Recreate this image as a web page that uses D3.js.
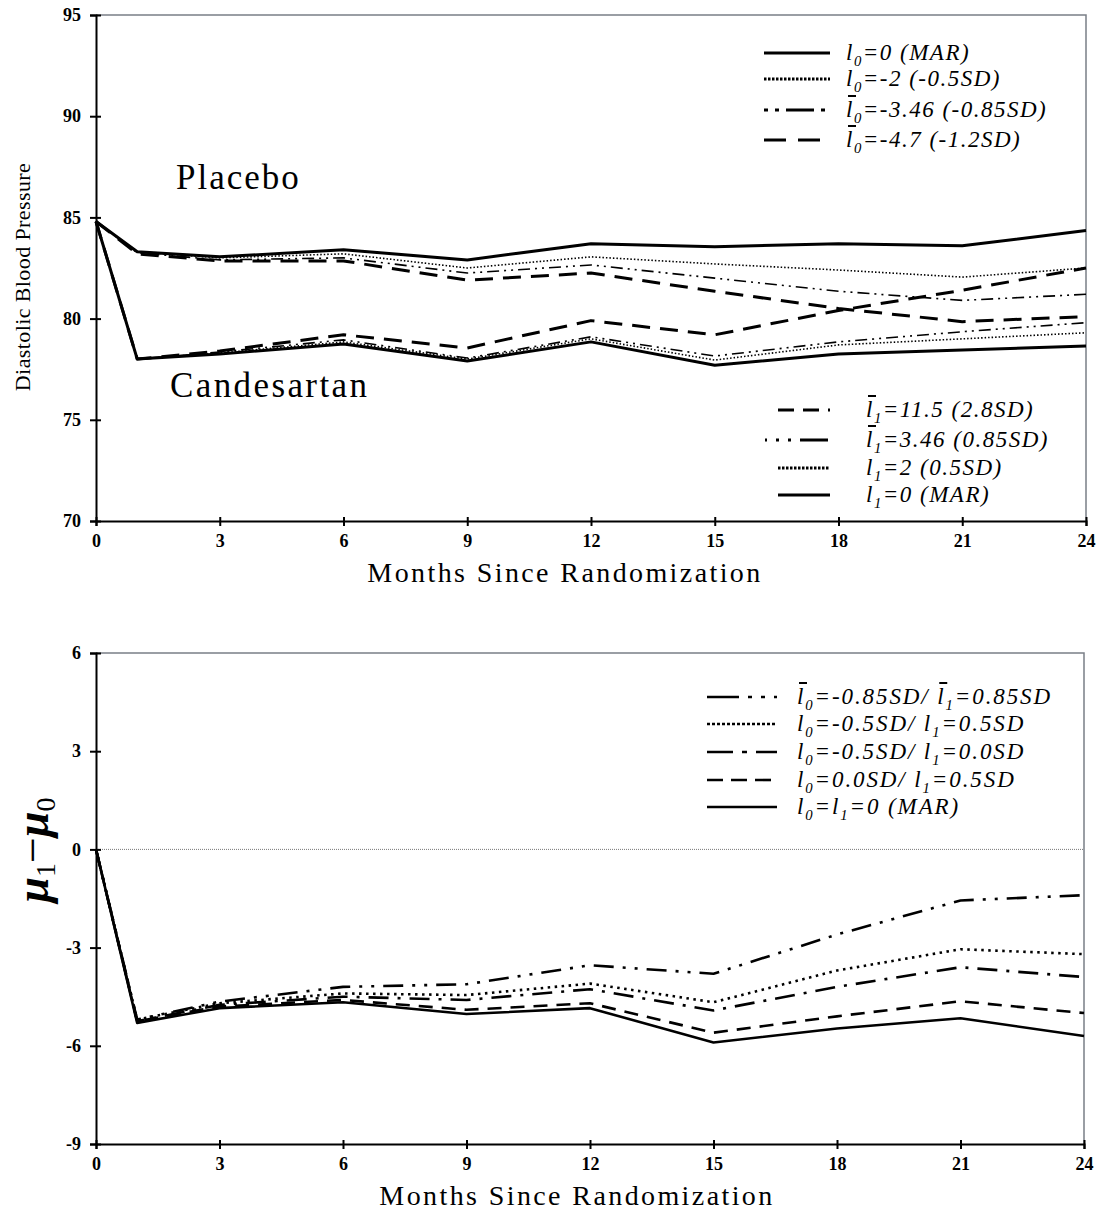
<!DOCTYPE html>
<html>
<head>
<meta charset="utf-8">
<script src="https://cdn.jsdelivr.net/npm/d3@7"></script>
<style>
  body { margin: 0; background: #fff; }
  svg text { font-family: "Liberation Serif", "Times New Roman", serif; }
</style>
</head>
<body>
<svg id="chart" width="1101" height="1211"></svg>
<script>
// ---------- DATA ----------
const months = [0, 1, 3, 6, 9, 12, 15, 18, 21, 24];
const xTicks = [0, 3, 6, 9, 12, 15, 18, 21, 24];
const topYTicks = [70, 75, 80, 85, 90, 95];
const botYTicks = [-9, -6, -3, 0, 3, 6];

// Placebo (l0 sensitivity)
const placeboL0_0    = [84.8, 83.3, 83.05, 83.4, 82.9, 83.7, 83.55, 83.7, 83.6, 84.35];
const placeboL0_m2   = [84.8, 83.3, 83.0, 83.2, 82.5, 83.05, 82.7, 82.4, 82.05, 82.5];
const placeboL0_m346 = [84.8, 83.25, 82.9, 83.0, 82.25, 82.65, 82.0, 81.35, 80.9, 81.2];
const placeboL0_m47  = [84.8, 83.2, 82.85, 82.85, 81.9, 82.25, 81.35, 80.5, 79.85, 80.1];
// Candesartan (l1 sensitivity)
const candL1_0    = [84.8, 78.0, 78.25, 78.75, 77.9, 78.85, 77.7, 78.25, 78.45, 78.65];
const candL1_2    = [84.8, 78.0, 78.3, 78.85, 78.0, 79.0, 77.95, 78.7, 79.0, 79.3];
const candL1_346  = [84.8, 78.0, 78.35, 78.95, 78.05, 79.1, 78.15, 78.85, 79.35, 79.8];
const candL1_115  = [84.8, 78.0, 78.4, 79.2, 78.55, 79.9, 79.2, 80.4, 81.4, 82.5];
// Difference mu1 - mu0
const diffMAR     = [0, -5.3, -4.85, -4.67, -5.03, -4.85, -5.9, -5.47, -5.16, -5.7];
const diff00_05   = [0, -5.25, -4.8, -4.6, -4.9, -4.7, -5.6, -5.1, -4.64, -5.0];
const diff05_00   = [0, -5.25, -4.75, -4.5, -4.6, -4.27, -4.92, -4.2, -3.6, -3.9];
const diff05_05   = [0, -5.2, -4.7, -4.4, -4.45, -4.1, -4.67, -3.7, -3.05, -3.2];
const diff085_085 = [0, -5.2, -4.65, -4.2, -4.12, -3.54, -3.8, -2.6, -1.56, -1.4];

// ---------- STYLES ----------
const ST = {
  solid:   { w: 3,   dash: null },
  dotted:  { w: 1.6, dash: "1.5,2" },
  dashdot: { w: 1.6, dash: "12,5,2,5,2,5" },
  longdash:{ w: 3,   dash: "18,10" },
  bSolid:  { w: 2.6, dash: null },
  bDash:   { w: 2.6, dash: "14,9" },
  bDashDot:{ w: 2.6, dash: "20,9,3,9" },
  bDot:    { w: 2.6, dash: "2.5,4.5" },
  bDDD:    { w: 2.6, dash: "20,9,3,9,3,9" }
};

const svg = d3.select("#chart");
const X0 = 96, X1 = 1086;

function drawPanel(opts) {
  const x = d3.scaleLinear().domain([0, 24]).range([X0, opts.xRight]);
  const y = d3.scaleLinear().domain(opts.yDomain).range([opts.yBottom, opts.yTop]);
  const g = svg.append("g");

  g.append("path")
    .attr("d", `M${X0},${opts.yTop}H${opts.xRight}V${opts.yBottom}`)
    .attr("fill", "none").attr("stroke", "#7a7f86").attr("stroke-width", 1.5);

  if (opts.zeroLine) {
    g.append("line").attr("x1", X0).attr("x2", opts.xRight)
      .attr("y1", y(0)).attr("y2", y(0))
      .attr("stroke", "#555").attr("stroke-width", 0.8).attr("stroke-dasharray", "1,1");
  }

  const fmt = d => String(d);
  const ya = d3.axisLeft(y).tickValues(opts.yTicks).tickSize(6).tickPadding(9).tickFormat(fmt);
  const yg = g.append("g").attr("transform", `translate(${X0},0)`).call(ya);
  const xa = d3.axisBottom(x).tickValues(xTicks).tickSize(5).tickPadding(8).tickFormat(fmt);
  const xg = g.append("g").attr("transform", `translate(0,${opts.yBottom})`).call(xa);
  [yg, xg].forEach(a => {
    a.attr("font-size", null).attr("font-family", null);
    a.select(".domain").attr("stroke", "#000").attr("stroke-width", 2);
    a.selectAll(".tick line").attr("stroke", "#000").attr("stroke-width", 2);
    a.selectAll(".tick text")
      .style("font-size", "18px").style("font-weight", "bold").attr("fill", "#000");
  });
  yg.selectAll(".tick").append("line").attr("x2", 5).attr("stroke", "#000").attr("stroke-width", 2);
  xg.selectAll(".tick").append("line").attr("y2", -4).attr("stroke", "#000").attr("stroke-width", 2);
  xg.selectAll(".tick text").attr("dy", "0.7em");

  const line = d3.line().x((d, i) => x(months[i])).y(d => y(d));
  opts.series.forEach(s => {
    g.append("path").datum(s.values)
      .attr("d", line)
      .attr("fill", "none").attr("stroke", "#000")
      .attr("stroke-width", s.style.w)
      .attr("stroke-dasharray", s.style.dash)
      .attr("stroke-linejoin", "round");
  });

  g.append("text").attr("x", opts.xTitleX).attr("y", opts.yBottom + 61)
    .attr("text-anchor", "middle").style("font-size", "28px").attr("letter-spacing", 2.4)
    .text("Months Since Randomization");
  return { x, y, g };
}

// ---------- TOP PANEL ----------
const topP = drawPanel({
  yDomain: [70, 95], yTop: 15, yBottom: 521, xRight: X1,
  yTicks: topYTicks, xTitleX: 565,
  series: [
    { values: placeboL0_m47, style: ST.longdash },
    { values: placeboL0_m346, style: ST.dashdot },
    { values: placeboL0_m2, style: ST.dotted },
    { values: placeboL0_0, style: ST.solid },
    { values: candL1_115, style: ST.longdash },
    { values: candL1_346, style: ST.dashdot },
    { values: candL1_2, style: ST.dotted },
    { values: candL1_0, style: ST.solid }
  ]
});
topP.g.append("text").attr("x", 22).attr("y", 277)
  .attr("transform", "rotate(-90,22,277)").attr("text-anchor", "middle")
  .attr("dy", "0.35em").style("font-size", "22px").attr("letter-spacing", 0.4)
  .text("Diastolic Blood Pressure");
topP.g.append("text").attr("x", 176).attr("y", 189).style("font-size", "35px")
  .attr("letter-spacing", 2).text("Placebo");
topP.g.append("text").attr("x", 170).attr("y", 397).style("font-size", "35px")
  .attr("letter-spacing", 2.4).text("Candesartan");

// ---------- BOTTOM PANEL ----------
const botP = drawPanel({
  yDomain: [-9, 6], yTop: 653, yBottom: 1144, xRight: 1084,
  yTicks: botYTicks, xTitleX: 577, zeroLine: true,
  series: [
    { values: diff085_085, style: ST.bDDD },
    { values: diff05_05, style: ST.bDot },
    { values: diff05_00, style: ST.bDashDot },
    { values: diff00_05, style: ST.bDash },
    { values: diffMAR, style: ST.bSolid }
  ]
});
{
  const t = botP.g.append("text").attr("transform", "translate(48,850) rotate(-90)")
    .attr("text-anchor", "middle").style("font-size", "46px").attr("font-style", "italic")
    .attr("font-weight", "bold");
  t.append("tspan").text("μ");
  t.append("tspan").style("font-size", "28px").attr("font-style", "normal").attr("font-weight", "normal").attr("dy", 7).text("1");
  t.append("tspan").attr("font-style", "normal").attr("font-weight", "normal").attr("dy", -7).text("−");
  t.append("tspan").text("μ");
  t.append("tspan").style("font-size", "28px").attr("font-style", "normal").attr("font-weight", "normal").attr("dy", 7).text("0");
}

// ---------- LEGENDS ----------
function legend(g, items, opt) {
  items.forEach((it, i) => {
    const yy = opt.rows[i];
    g.append("line").attr("x1", opt.sx1 + (it.sxOff || 0)).attr("x2", opt.sx2)
      .attr("y1", yy).attr("y2", yy).attr("stroke", "#000")
      .attr("stroke-width", it.style.w < 2 ? 3 : it.style.w)
      .attr("stroke-dasharray", it.legendDash || it.style.dash);
    const t = g.append("text").attr("x", opt.tx).attr("y", yy + 7)
      .style("font-size", opt.fs + "px").attr("font-style", "italic")
      .attr("letter-spacing", opt.ls);
    let bars = [];
    it.parts.forEach(p => {
      const ts = t.append("tspan").text(p.l);
      if (p.bar) bars.push(ts);
      t.append("tspan").style("font-size", (opt.fs * 0.64) + "px").attr("dy", 6).text(p.s);
      t.append("tspan").attr("dy", -6).text(p.r);
    });
    bars.forEach(ts => {
      const bb = ts.node().getBBox();
      g.append("line").attr("x1", bb.x + 2).attr("x2", bb.x + 10)
        .attr("y1", yy - 14).attr("y2", yy - 14).attr("stroke", "#000").attr("stroke-width", 2);
    });
  });
}

legend(topP.g, [
  { style: ST.solid, parts: [{ l: "l", s: "0", r: "=0 (MAR)" }] },
  { style: ST.dotted, legendDash: "2.5,1.5", parts: [{ l: "l", s: "0", r: "=-2 (-0.5SD)" }] },
  { style: ST.dashdot, legendDash: "4,7,4,7,28,7", parts: [{ l: "l", s: "0", r: "=-3.46 (-0.85SD)", bar: true }] },
  { style: ST.longdash, legendDash: "22,12", parts: [{ l: "l", s: "0", r: "=-4.7 (-1.2SD)", bar: true }] }
], { rows: [53, 79, 110, 140], sx1: 764, sx2: 830, tx: 846, fs: 23, ls: 1.5 });

legend(topP.g, [
  { style: ST.longdash, legendDash: "16,9", parts: [{ l: "l", s: "1", r: "=11.5 (2.8SD)", bar: true }] },
  { style: ST.dashdot, legendDash: "2,9,3,9,3,9,28,9", sxOff: -13, parts: [{ l: "l", s: "1", r: "=3.46 (0.85SD)", bar: true }] },
  { style: ST.dotted, legendDash: "2.5,1.5", parts: [{ l: "l", s: "1", r: "=2 (0.5SD)" }] },
  { style: ST.solid, parts: [{ l: "l", s: "1", r: "=0 (MAR)" }] }
], { rows: [410, 440, 468, 495], sx1: 778, sx2: 830, tx: 866, fs: 23, ls: 1.5 });

legend(botP.g, [
  { style: ST.bDDD, legendDash: "32,9,4,9,4,9,4", parts: [{ l: "l", s: "0", r: "=-0.85SD/ ", bar: true }, { l: "l", s: "1", r: "=0.85SD", bar: true }] },
  { style: ST.bDot, legendDash: "3,2", parts: [{ l: "l", s: "0", r: "=-0.5SD/ " }, { l: "l", s: "1", r: "=0.5SD" }] },
  { style: ST.bDashDot, legendDash: "26,9,5,9", parts: [{ l: "l", s: "0", r: "=-0.5SD/ " }, { l: "l", s: "1", r: "=0.0SD" }] },
  { style: ST.bDash, legendDash: "16,8", parts: [{ l: "l", s: "0", r: "=0.0SD/ " }, { l: "l", s: "1", r: "=0.5SD" }] },
  { style: ST.bSolid, parts: [{ l: "l", s: "0", r: "=" }, { l: "l", s: "1", r: "=0 (MAR)" }] }
], { rows: [697, 724, 752, 780, 807], sx1: 707, sx2: 777, tx: 797, fs: 23, ls: 1.9 });
</script>
</body>
</html>
